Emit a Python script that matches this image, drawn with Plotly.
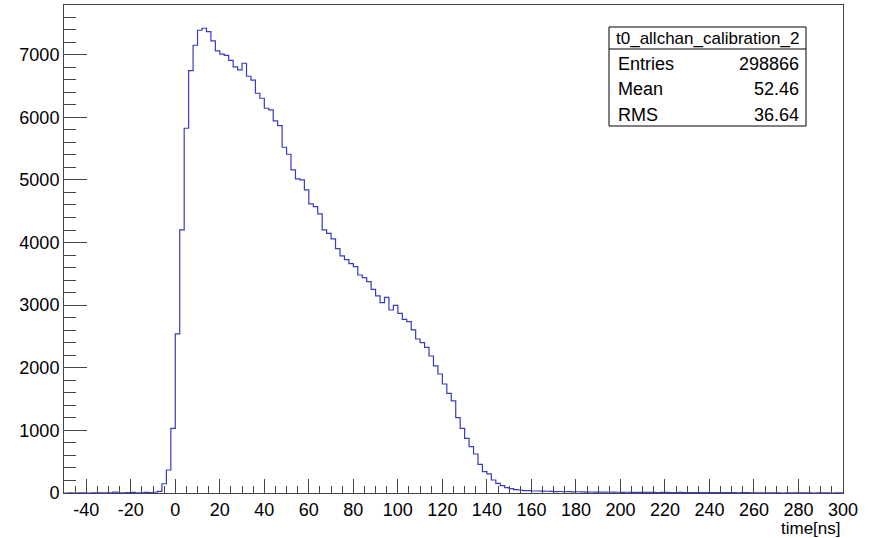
import plotly.graph_objects as go

# Histogram: 2 ns bins from -50 to 300 ns
bin_lo = -50.0
bin_width = 2.0

left_tail = [0, 1, 0, 2, 1, 0, 1, 2, 1, 3,
             4, 14, 3, 2, 5, 9, 4, 3, 10, 6]          # -50 .. -10
rise = [12, 25, 148, 367, 1033]                        # -10 .. 0
main = [2540, 4201, 5826, 6747, 7151, 7391, 7423, 7370, 7220, 7061,
        7008, 6991, 6911, 6805, 6757, 6864, 6656, 6595, 6385, 6305,
        6145, 6118, 5942, 5868, 5522, 5410, 5160, 5016, 5000, 4840,
        4617, 4574, 4457, 4201, 4148, 4058, 3903, 3786, 3728, 3664,
        3615, 3482, 3440, 3376, 3253, 3147, 3040, 3126, 2923, 2998,
        2870, 2774, 2737, 2604, 2460, 2401, 2327, 2188, 2029, 1901,
        1741, 1592, 1470, 1203, 1033, 873, 740, 623, 458, 341,
        304, 208, 154, 117, 85, 69, 53, 48, 37, 37, 32, 32]   # 0 .. 164
right_tail = [30, 28, 26, 22, 24, 20, 22, 18,
              20, 17, 15, 16, 14, 15, 13, 12, 14, 12,
              11, 12, 10, 11, 9, 10, 11, 9, 8, 10,
              9, 8, 8, 9, 7, 8, 6, 7, 8, 6,
              7, 6, 5, 6, 5, 6, 4, 5, 6, 4,
              3, 2, 4, 1, 3, 2, 0, 3, 2, 1,
              2, 1, 3, 0, 2, 1, 2, 0, 1, 2]           # 164 .. 300
counts = left_tail + rise + main + right_tail

x_tickvals = [-40, -20, 0, 20, 40, 60, 80, 100, 120, 140, 160, 180, 200, 220, 240, 260, 280, 300]
y_tickvals = [0, 1000, 2000, 3000, 4000, 5000, 6000, 7000]

stats_title = "t0_allchan_calibration_2"
stats_names = ["Entries", "Mean", "RMS"]
stats_values = ["298866", "52.46", "36.64"]
x_title = "time[ns]"

edges = [bin_lo + i * bin_width for i in range(len(counts) + 1)]
xs = edges
ys = counts + [counts[-1]]

ymax = max(counts) * 1.05

fig = go.Figure()
fig.add_trace(go.Scatter(x=xs, y=ys, mode="lines", line_shape="hv",
                         line=dict(color="#3a3ac4", width=1.2),
                         hoverinfo="skip", showlegend=False))

font_family = "Liberation Sans, Arial, sans-serif"
axis_col = "#444444"

fig.update_layout(
    width=871, height=538,
    margin=dict(l=64, r=28, t=5, b=45, autoexpand=False),
    paper_bgcolor="white", plot_bgcolor="white",
    font=dict(family=font_family, size=18, color="black"),
    showlegend=False,
    xaxis=dict(range=[edges[0], edges[-1]], tickvals=x_tickvals,
               ticktext=[str(v) for v in x_tickvals], automargin=False,
               ticks="inside", ticklen=14, tickcolor=axis_col, tickwidth=1,
               minor=dict(dtick=5, tick0=0, ticks="inside", ticklen=7,
                          tickcolor=axis_col, tickwidth=1),
               showgrid=False, zeroline=False, showline=True, mirror=True,
               linecolor=axis_col, linewidth=1,
               tickfont=dict(size=18, family=font_family)),
    yaxis=dict(range=[0, ymax], tickvals=y_tickvals, automargin=False,
               ticks="inside", ticklen=23, tickcolor=axis_col, tickwidth=1,
               minor=dict(dtick=200, tick0=0, ticks="inside", ticklen=12,
                          tickcolor=axis_col, tickwidth=1),
               showgrid=False, zeroline=False, showline=True, mirror=True,
               linecolor=axis_col, linewidth=1,
               tickfont=dict(size=18, family=font_family)),
)

# Axis title (ROOT style, right aligned under the axis)
fig.add_annotation(text=x_title, xref="paper", yref="paper", x=1.0, y=-24 / 488.0,
                   xanchor="right", yanchor="top", showarrow=False,
                   font=dict(size=17, family=font_family))

# Stats box in paper coordinates of plot area (l=64, width 779; bottom 493, height 488)
def px_x(p):
    return (p - 64) / 779.0

def px_y(p):
    return (493 - p) / 488.0

bx0, bx1, by0, by1, bsep = 609, 806, 27, 126, 49
fig.add_shape(type="rect", xref="paper", yref="paper",
              x0=px_x(bx0), x1=px_x(bx1), y0=px_y(by1), y1=px_y(by0),
              line=dict(color="black", width=1), fillcolor="white", layer="above")
fig.add_shape(type="line", xref="paper", yref="paper",
              x0=px_x(bx0), x1=px_x(bx1), y0=px_y(bsep), y1=px_y(bsep),
              line=dict(color="black", width=1), layer="above")
fig.add_annotation(text=stats_title, xref="paper", yref="paper",
                   x=px_x((bx0 + bx1) / 2), y=px_y(38), xanchor="center", yanchor="middle",
                   showarrow=False, font=dict(size=17, family=font_family))
row_y = [64, 89.5, 114.5]
for name, val, ry in zip(stats_names, stats_values, row_y):
    fig.add_annotation(text=name, xref="paper", yref="paper", x=px_x(616), y=px_y(ry),
                       xanchor="left", yanchor="middle", showarrow=False,
                       font=dict(size=18, family=font_family))
    fig.add_annotation(text=val, xref="paper", yref="paper", x=px_x(801), y=px_y(ry),
                       xanchor="right", yanchor="middle", showarrow=False,
                       font=dict(size=18, family=font_family))

fig.write_html("out.html", config={"displayModeBar": False},
               post_script="document.body.style.margin='0';")
